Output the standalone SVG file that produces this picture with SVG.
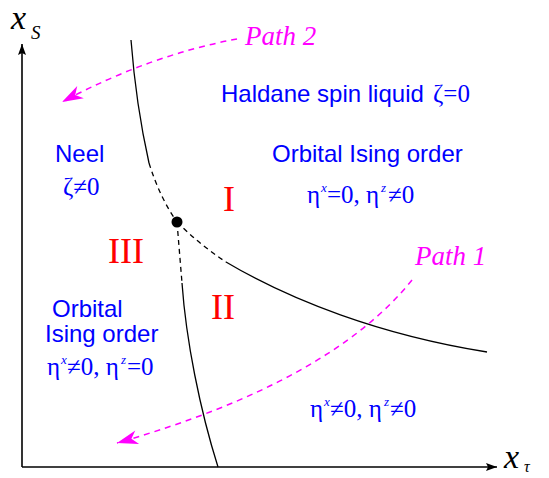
<svg xmlns="http://www.w3.org/2000/svg" width="549" height="478" viewBox="0 0 549 478">
<defs>
<marker id="axarrow" markerUnits="userSpaceOnUse" markerWidth="14" markerHeight="10" viewBox="-12 -5 14 10" refX="0" refY="0" orient="auto">
<path d="M0,0 L-11,-4 L-9,0 L-11,4 Z" fill="#000"/>
</marker>
<marker id="marrow" markerUnits="userSpaceOnUse" markerWidth="24" markerHeight="16" viewBox="-22 -8 24 16" refX="0" refY="0" orient="auto">
<path d="M0,0 L-21,-7 L-15,0 L-21,7 Z" fill="#ff00ff"/>
</marker>
</defs>
<style>
.axis{stroke:#000;stroke-width:1.6;fill:none}
.solid{stroke:#000;stroke-width:1.3;fill:none}
.dash{stroke:#000;stroke-width:1.3;fill:none;stroke-dasharray:5 4}
.mpath{stroke:#ff00ff;stroke-width:1.5;fill:none;stroke-dasharray:6 5}
.blue{font-family:"Liberation Sans",Arial,sans-serif;font-size:24px;fill:#0000ff}
.bser{font-family:"Liberation Serif","Times New Roman",serif;font-size:25px;fill:#0000ff}
.sup{font-family:"Liberation Serif","Times New Roman",serif;font-style:italic;font-size:13px;fill:#0000ff}
.roman{font-family:"Liberation Serif","Times New Roman",serif;font-size:36px;fill:#ff0000}
.plabel{font-family:"Liberation Serif","Times New Roman",serif;font-style:italic;font-size:27px;fill:#ff00ff}
.axlabel{font-family:"Liberation Serif","Times New Roman",serif;font-style:italic;fill:#000}
</style>
<g id="connectors">
<path class="axis" d="M22,467 L22,44" marker-end="url(#axarrow)"/>
<path class="axis" d="M22,467 L497,467" marker-end="url(#axarrow)"/>
<path class="solid" d="M131,40 Q136,105 149,163"/>
<path class="dash" d="M149,163 Q160,198 177,222"/>
<path class="dash" d="M177,222 Q200,245 226,262"/>
<path class="solid" d="M226,262 C290,300 380,335 487,352"/>
<path class="dash" d="M177,222 L182,283"/>
<path class="solid" d="M182,283 C186,340 200,410 218,467"/>
<path class="mpath" d="M237,39 Q150,55 62,102" marker-end="url(#marrow)"/>
<path class="mpath" d="M412,280 Q330,382 117,443" marker-end="url(#marrow)"/>
</g>
<g id="triple-point">
<circle cx="177" cy="222" r="5.5" fill="#000"/>
</g>
<g id="axis-labels">
<text class="axlabel" x="11" y="29" font-size="34">x</text>
<text class="axlabel" x="31" y="39" font-size="19">S</text>
<text class="axlabel" x="504" y="468" font-size="34">x</text>
<text class="axlabel" x="524" y="472" font-size="16">τ</text>
</g>
<g id="path-labels">
<text class="plabel" x="245" y="45">Path 2</text>
<text class="plabel" x="415" y="265">Path 1</text>
</g>
<g id="region-haldane">
<text class="blue" x="221" y="102">Haldane spin liquid</text>
<text class="bser" x="433" y="102">ζ=0</text>
</g>
<g id="region-neel">
<text class="blue" x="55" y="162">Neel</text>
<text class="bser" x="63" y="195">ζ≠0</text>
</g>
<g id="region-I">
<text class="roman" x="223" y="211">I</text>
<text class="blue" x="272" y="162">Orbital Ising order</text>
<text class="bser" y="203"><tspan x="307">η</tspan><tspan class="sup" x="321" dy="-11">x</tspan><tspan x="327" dy="11">=0, η</tspan><tspan class="sup" x="381" dy="-11">z</tspan><tspan x="388" dy="11">≠0</tspan></text>
</g>
<g id="region-II">
<text class="roman" x="211" y="319">II</text>
<text class="bser" y="417"><tspan x="310">η</tspan><tspan class="sup" x="324" dy="-11">x</tspan><tspan x="330" dy="11">≠0, η</tspan><tspan class="sup" x="384" dy="-11">z</tspan><tspan x="390" dy="11">≠0</tspan></text>
</g>
<g id="region-III">
<text class="roman" x="108" y="263">III</text>
<text class="blue" x="52" y="317">Orbital</text>
<text class="blue" x="45" y="342">Ising order</text>
<text class="bser" y="375"><tspan x="47">η</tspan><tspan class="sup" x="61" dy="-11">x</tspan><tspan x="67" dy="11">≠0, η</tspan><tspan class="sup" x="121" dy="-11">z</tspan><tspan x="127" dy="11">=0</tspan></text>
</g>
</svg>
